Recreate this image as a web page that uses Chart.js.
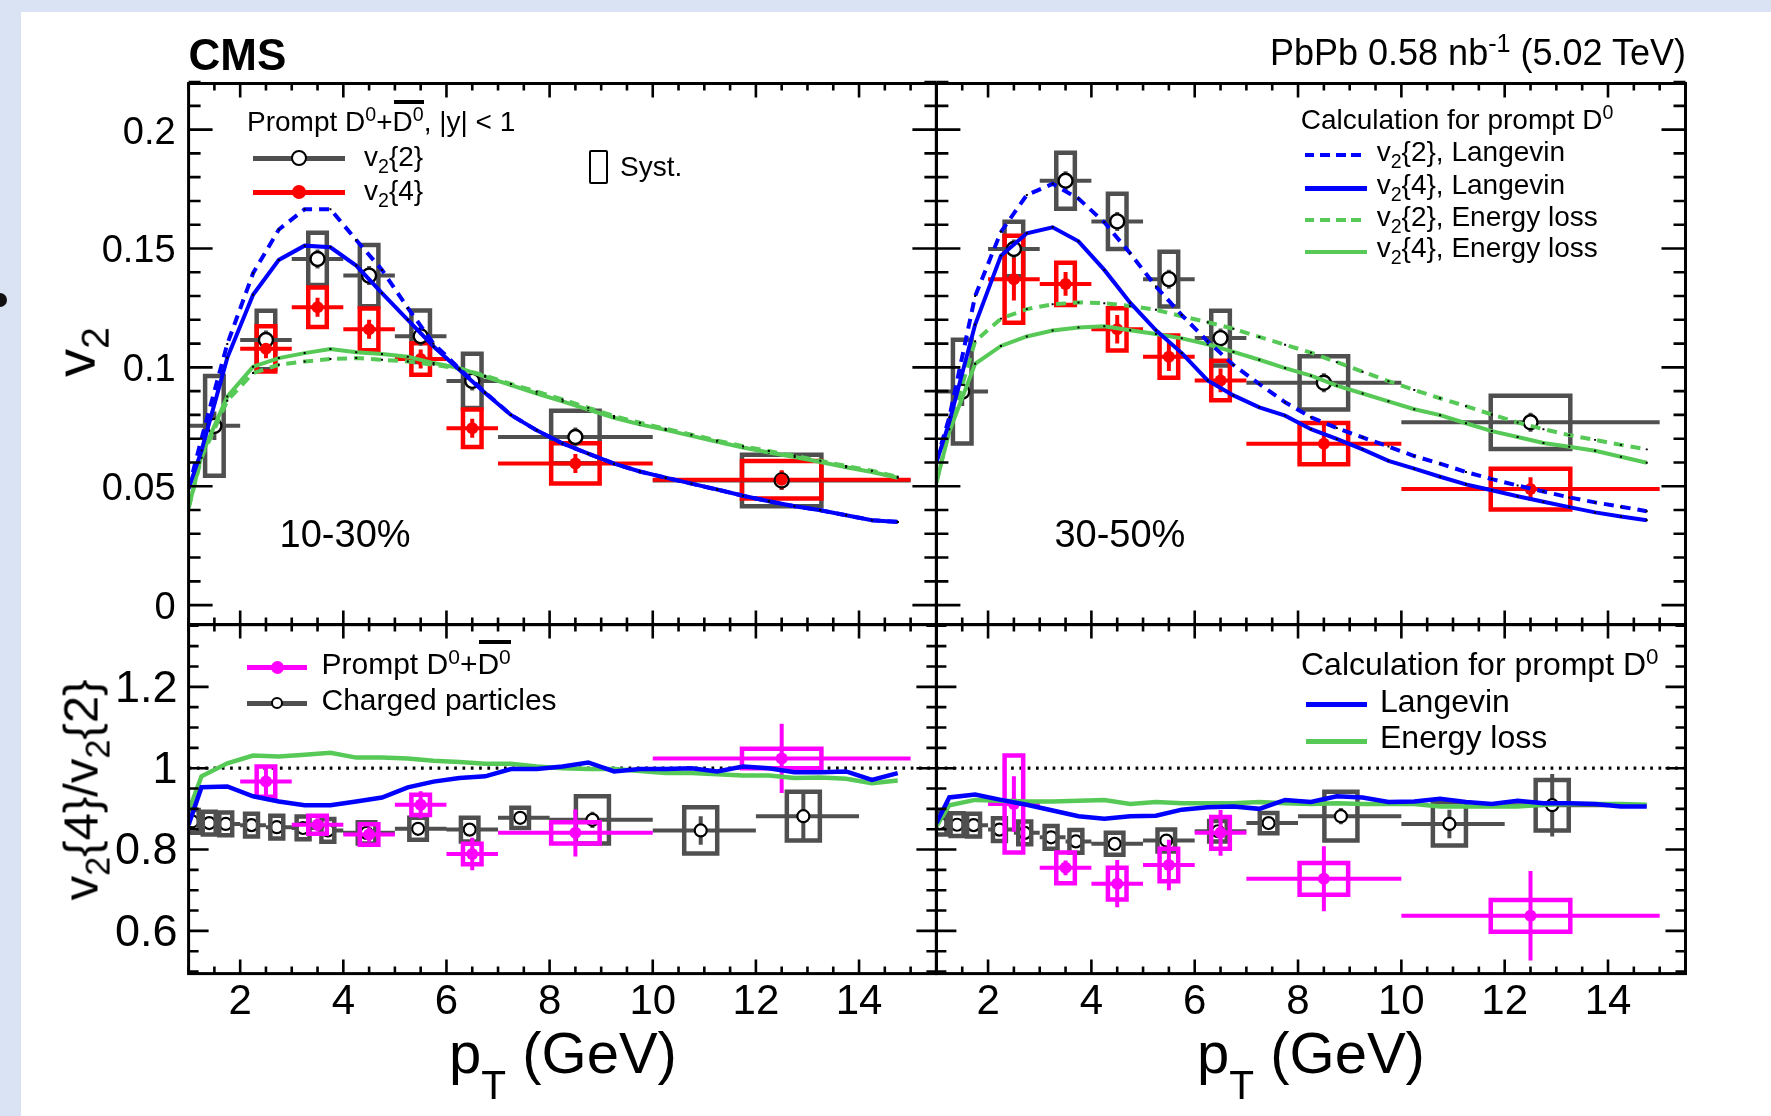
<!DOCTYPE html>
<html>
<head>
<meta charset="utf-8">
<title>CMS prompt D0 v2{2}, v2{4}</title>
<script src="https://cdn.jsdelivr.net/npm/chart.js@4.4.1/dist/chart.umd.min.js"></script>
<style>
  html, body { margin: 0; padding: 0; }
  body { position: relative; width: 1771px; height: 1116px; overflow: hidden; background: #d9e3f4;
         font-family: "Liberation Sans", Arial, Helvetica, sans-serif; color: #000; }
  #sheet { position: absolute; left: 21px; top: 12px; width: 1750px; height: 1104px; background: #fff; }
  #dot { position: absolute; left: -7px; top: 293px; width: 14px; height: 14px; border-radius: 50%; background: #111; }
  canvas { position: absolute; left: 0; top: 0; }
  .t { position: absolute; white-space: nowrap; line-height: 1; }
  .t sub, .t sup { font-size: 0.7em; line-height: 0; }
  .t sub { vertical-align: -0.35em; }
  .t sup { vertical-align: 0.5em; }
  .t sub.deep { vertical-align: -0.65em; }
  .ov { position: relative; }
  .ov::before { content: ""; position: absolute; left: 0.05em; right: 0; top: -0.22em; border-top: 4px solid #000; }
  .ln, .mk { position: absolute; box-sizing: border-box; }
  .mk { border-radius: 50%; }
</style>
</head>
<body>
<div id="sheet"></div>
<div id="dot"></div>
<canvas id="pTL" width="1771" height="1116"></canvas>
<canvas id="pTR" width="1771" height="1116"></canvas>
<canvas id="pBL" width="1771" height="1116"></canvas>
<canvas id="pBR" width="1771" height="1116"></canvas>
<script>
// ---- values ----

// model curves, shared pT grid
const curvePt = [1.0, 1.25, 1.75, 2.25, 2.75, 3.25, 3.75, 4.25, 4.75, 5.25, 5.75, 6.25, 6.75, 7.25,
  7.75, 8.25, 8.75, 9.25, 9.75, 10.25, 10.75, 11.25, 11.75, 12.25, 12.75, 13.25, 13.75, 14.25, 14.75];

// 10-30%
const lgV22_1030 = [0.049, 0.070, 0.1098, 0.1396, 0.158, 0.1665, 0.1665, 0.1536, 0.141, 0.125, 0.110, 0.0995, 0.0895, 0.080,
  0.0735, 0.068, 0.0637, 0.0595, 0.0562, 0.0536, 0.0511, 0.0486, 0.046, 0.0437, 0.0416, 0.0399, 0.0378, 0.0357, 0.035];
const lgV24_1030 = [0.049, 0.065, 0.104, 0.1305, 0.1452, 0.1512, 0.1505, 0.1428, 0.1312, 0.120, 0.1088, 0.099, 0.0892, 0.080,
  0.0735, 0.068, 0.0637, 0.0595, 0.0562, 0.0536, 0.0511, 0.0486, 0.046, 0.0437, 0.0416, 0.0399, 0.0378, 0.0357, 0.035];
const elV22_1030 = [0.0408, 0.062, 0.086, 0.0976, 0.1011, 0.1025, 0.1035, 0.1039, 0.1032, 0.1025, 0.1011, 0.0995, 0.0965, 0.093,
  0.0898, 0.0865, 0.083, 0.0795, 0.0767, 0.0742, 0.0717, 0.0692, 0.0668, 0.0648, 0.0628, 0.0607, 0.0585, 0.0565, 0.054];
const elV24_1030 = [0.0408, 0.063, 0.0877, 0.1003, 0.1039, 0.106, 0.1077, 0.1064, 0.1056, 0.1045, 0.1018, 0.0997, 0.0961, 0.0925,
  0.089, 0.0857, 0.0822, 0.0788, 0.076, 0.0737, 0.0712, 0.0687, 0.0663, 0.0642, 0.0623, 0.0602, 0.058, 0.056, 0.0536];
// 30-50%
const lgV22_3050 = [0.0607, 0.079, 0.130, 0.157, 0.1725, 0.1772, 0.171, 0.161, 0.148, 0.134, 0.122, 0.111, 0.101, 0.093,
  0.0853, 0.079, 0.0745, 0.0705, 0.0667, 0.0627, 0.0595, 0.056, 0.053, 0.0503, 0.0478, 0.0453, 0.0432, 0.0414, 0.0395];
const lgV24_3050 = [0.060, 0.077, 0.118, 0.147, 0.1564, 0.1589, 0.153, 0.141, 0.1272, 0.1156, 0.106, 0.0945, 0.0882, 0.0832,
  0.0797, 0.074, 0.0699, 0.0655, 0.0607, 0.0574, 0.054, 0.0508, 0.0483, 0.0458, 0.0435, 0.0412, 0.039, 0.0373, 0.0357];
const elV22_3050 = [0.0516, 0.074, 0.111, 0.1205, 0.1245, 0.1265, 0.1273, 0.127, 0.1258, 0.1242, 0.1215, 0.119, 0.1162, 0.1128,
  0.1095, 0.1062, 0.1022, 0.0982, 0.0942, 0.0905, 0.087, 0.0837, 0.0802, 0.0768, 0.074, 0.0715, 0.0695, 0.0674, 0.0655];
const elV24_3050 = [0.0516, 0.073, 0.1015, 0.109, 0.113, 0.1155, 0.1168, 0.1173, 0.1156, 0.114, 0.1122, 0.1097, 0.1065, 0.1032,
  0.0997, 0.0965, 0.0923, 0.089, 0.0857, 0.0824, 0.0799, 0.0765, 0.0732, 0.0707, 0.0682, 0.0666, 0.0649, 0.0624, 0.0599];
// ratios v2{4}/v2{2}
const lgRatio_1030 = [0.861, 0.953, 0.955, 0.931, 0.918, 0.909, 0.909, 0.918, 0.928, 0.953, 0.967, 0.976, 0.980, 0.998,
  0.998, 1.004, 1.014, 0.992, 0.998, 0.998, 1.0, 0.992, 1.004, 1.0, 0.990, 0.990, 0.992, 0.971, 0.988];
const elRatio_1030 = [0.894, 0.980, 1.012, 1.031, 1.029, 1.033, 1.038, 1.026, 1.026, 1.024, 1.018, 1.015, 1.011, 1.011,
  1.004, 1.0, 0.998, 0.998, 0.993, 0.988, 0.988, 0.985, 0.982, 0.982, 0.976, 0.977, 0.974, 0.963, 0.970];
const lgRatio_3050 = [0.865, 0.928, 0.935, 0.922, 0.910, 0.896, 0.882, 0.876, 0.882, 0.883, 0.898, 0.904, 0.906, 0.900,
  0.922, 0.917, 0.931, 0.928, 0.917, 0.918, 0.925, 0.917, 0.912, 0.920, 0.914, 0.914, 0.912, 0.906, 0.906];
const elRatio_3050 = [0.857, 0.909, 0.922, 0.920, 0.918, 0.918, 0.920, 0.922, 0.912, 0.917, 0.914, 0.914, 0.914, 0.917,
  0.914, 0.912, 0.914, 0.912, 0.912, 0.912, 0.906, 0.906, 0.906, 0.906, 0.910, 0.912, 0.912, 0.912, 0.910];

// prompt D0 v2 points
const dPt    = [1.5, 2.5, 3.5, 4.5, 5.5, 6.5, 8.5, 12.5];
const dBinLo = [1, 2, 3, 4, 5, 6, 7, 10];
const dBinHi = [2, 3, 4, 5, 6, 7, 10, 15];
const v22_1030     = [0.0754, 0.1115, 0.1456, 0.1386, 0.1131, 0.0943, 0.0707, 0.0524];
const v22_1030Stat = [0.006, 0.004, 0.004, 0.004, 0.004, 0.004, 0.004, 0.004];
const v22_1030Sys  = [0.021, 0.0123, 0.011, 0.0129, 0.0108, 0.0114, 0.011, 0.0108];
const v24_1030     = [null, 0.1078, 0.1253, 0.116, 0.1035, 0.0744, 0.0596, 0.0527];
const v24_1030Stat = [null, 0.004, 0.004, 0.004, 0.004, 0.004, 0.004, 0.004];
const v24_1030Sys  = [null, 0.0095, 0.0083, 0.0088, 0.0066, 0.0079, 0.0085, 0.0079];
const v22_3050     = [0.0898, 0.1498, 0.1785, 0.1614, 0.1371, 0.1123, 0.0935, 0.0769];
const v22_3050Stat = [0.006, 0.004, 0.004, 0.004, 0.004, 0.004, 0.004, 0.004];
const v22_3050Sys  = [0.0218, 0.0115, 0.0118, 0.0116, 0.0115, 0.0115, 0.0112, 0.0112];
const v24_3050     = [null, 0.1371, 0.1351, 0.116, 0.1045, 0.0945, 0.0679, 0.0488];
const v24_3050Stat = [null, 0.009, 0.005, 0.006, 0.006, 0.005, 0.008, 0.005];
const v24_3050Sys  = [null, 0.0183, 0.0089, 0.0089, 0.0089, 0.0083, 0.0087, 0.0086];

// prompt D0 ratio points
const rPt    = [2.5, 3.5, 4.5, 5.5, 6.5, 8.5, 12.5];
const rBinLo = [2, 3, 4, 5, 6, 7, 10];
const rBinHi = [3, 4, 5, 6, 7, 10, 15];
const rD_1030     = [0.967, 0.861, 0.837, 0.910, 0.789, 0.841, 1.024];
const rD_1030Stat = [0.041, 0.016, 0.018, 0.033, 0.040, 0.058, 0.085];
const rD_1030Sys  = [0.037, 0.022, 0.025, 0.025, 0.025, 0.026, 0.024];
const rD_3050     = [0.912, 0.755, 0.716, 0.762, 0.841, 0.728, 0.637];
const rD_3050Stat = [0.068, 0.018, 0.058, 0.062, 0.056, 0.080, 0.110];
const rD_3050Sys  = [0.119, 0.038, 0.039, 0.040, 0.039, 0.039, 0.039];

// charged particle ratio points
const hPt    = [1.07, 1.40, 1.72, 2.22, 2.71, 3.22, 3.70, 4.45, 5.45, 6.45, 7.43, 8.83, 10.93, 12.92];
const hBinLo = [1.0, 1.2, 1.6, 2.0, 2.5, 3.0, 3.5, 4, 5, 6, 7, 8, 10, 12];
const hBinHi = [1.2, 1.6, 2.0, 2.5, 3.0, 3.5, 4.0, 5, 6, 7, 8, 10, 12, 14];
const rH_1030     = [0.869, 0.865, 0.863, 0.860, 0.855, 0.853, 0.847, 0.841, 0.851, 0.849, 0.878, 0.873, 0.847, 0.882];
const rH_1030Stat = [0.004, 0.004, 0.004, 0.004, 0.005, 0.005, 0.006, 0.007, 0.008, 0.010, 0.012, 0.020, 0.035, 0.060];
const rH_1030Sys  = [0.028, 0.028, 0.028, 0.028, 0.028, 0.028, 0.028, 0.026, 0.027, 0.029, 0.025, 0.058, 0.057, 0.060];
const rH_3050     = [0.865, 0.861, 0.860, 0.849, 0.841, 0.830, 0.820, 0.814, 0.822, 0.845, 0.865, 0.882, 0.863, 0.909];
const rH_3050Stat = [0.004, 0.004, 0.004, 0.004, 0.005, 0.005, 0.006, 0.007, 0.008, 0.010, 0.012, 0.020, 0.035, 0.077];
const rH_3050Sys  = [0.028, 0.028, 0.028, 0.028, 0.028, 0.028, 0.028, 0.027, 0.027, 0.025, 0.025, 0.060, 0.053, 0.062];

// axes
const xTickVals  = [2, 4, 6, 8, 10, 12, 14];
const v2TickVals = [0, 0.05, 0.1, 0.15, 0.2];
const rTickVals  = [0.6, 0.8, 1, 1.2];

// ---- page geometry ----
const W = 1771, H = 1116;
const FL = 188.6, FM = 936.4, FR = 1685.5;   // frame x: left, middle, right
const FT = 83.5, FMID = 624.6, FB = 973.6;    // frame y: top, middle, bottom
const X_MIN = 1, X_MAX = 15.5;

const GRAY = '#4f4f4f', RED = '#ff0000', MAG = '#ff00ff', BLUE = '#0000ff', GREEN = '#57c957';
const FONT = '"Liberation Sans", Arial, Helvetica, sans-serif';
Chart.defaults.font.family = FONT;
Chart.defaults.color = '#000';

const steps = (a, b, s) => { const out = []; for (let v = a; v <= b + 1e-9; v += s) out.push(+v.toFixed(4)); return out; };

// ROOT-style frame with inward ticks on all four sides
const rootFrame = {
  id: 'rootFrame',
  afterDatasetsDraw(chart, args, o) {
    const { ctx, chartArea: a } = chart;
    const sx = chart.scales.x, sy = chart.scales.y;
    const isMajor = (v, list) => list.some(m => Math.abs(m - v) < 1e-6);
    ctx.save();
    ctx.strokeStyle = '#000';
    ctx.lineWidth = 2.6;
    ctx.beginPath();
    o.xMinor.forEach(v => {
      const p = sx.getPixelForValue(v);
      const len = isMajor(v, o.xMajor) ? o.xLen[0] : o.xLen[1];
      ctx.moveTo(p, a.bottom); ctx.lineTo(p, a.bottom - len);
      ctx.moveTo(p, a.top); ctx.lineTo(p, a.top + len);
    });
    o.yMinor.forEach(v => {
      const p = sy.getPixelForValue(v);
      const len = isMajor(v, o.yMajor) ? o.yLen[0] : o.yLen[1];
      ctx.moveTo(a.left, p); ctx.lineTo(a.left + len, p);
      ctx.moveTo(a.right, p); ctx.lineTo(a.right - len, p);
    });
    ctx.stroke();
    ctx.lineWidth = 3;
    ctx.strokeRect(a.left, a.top, a.right - a.left, a.bottom - a.top);
    ctx.restore();
  }
};

// ---- dataset builders ----
const dHalfW = pt => pt < 7 ? 0.18 : (pt < 10 ? 0.47 : 0.77);
const hHalfW = pt => pt < 4 ? 0.125 : (pt < 8 ? 0.17 : 0.32);

function boxPts(px, val, sys, hw) {
  const pts = [];
  px.forEach((p, i) => {
    if (val[i] == null) return;
    const w = hw(p), lo = val[i] - sys[i], hi = val[i] + sys[i];
    pts.push({x: p - w, y: lo}, {x: p + w, y: lo}, {x: p + w, y: hi}, {x: p - w, y: hi}, {x: p - w, y: lo}, {x: p, y: null});
  });
  return pts;
}
function errPts(px, val, stat, lo, hi) {
  const pts = [];
  px.forEach((p, i) => {
    if (val[i] == null) return;
    pts.push({x: lo[i], y: val[i]}, {x: hi[i], y: val[i]}, {x: p, y: null});
    pts.push({x: p, y: val[i] - stat[i]}, {x: p, y: val[i] + stat[i]}, {x: p, y: null});
  });
  return pts;
}
const xy = (px, val) => px.map((p, i) => ({x: p, y: val[i]})).filter(d => d.y != null);

const boxSet = (data, color, w) => ({ data, borderColor: color, borderWidth: w, pointRadius: 0,
  borderCapStyle: 'square', borderJoinStyle: 'miter', spanGaps: false });
const errSet = (data, color, w) => ({ data, borderColor: color, borderWidth: w, pointRadius: 0,
  borderCapStyle: 'butt', spanGaps: false });
const openMk = (data, r, bw) => ({ data, showLine: false, pointStyle: 'circle', pointRadius: r,
  pointBackgroundColor: '#fff', pointBorderColor: '#000', pointBorderWidth: bw });
const fullMk = (data, color, r) => ({ data, showLine: false, pointStyle: 'circle', pointRadius: r,
  pointBackgroundColor: color, pointBorderColor: color, pointBorderWidth: 0 });
const curveSet = (vals, color, w, dashed, dots) => ({ data: xy(curvePt, vals), borderColor: color, borderWidth: w,
  borderDash: dashed ? [10, 7] : [], tension: 0,
  pointRadius: dots ? 1.4 : 0, pointStyle: 'rect', pointBackgroundColor: '#000', pointBorderWidth: 0 });

// first entry is drawn on top
function topSets(v22, v22s, v22y, v24, v24s, v24y, lg22, lg24, el22, el24) {
  return [
    curveSet(lg22, BLUE, 4, true, true),
    curveSet(lg24, BLUE, 4, false, true),
    curveSet(el22, GREEN, 4, true, true),
    curveSet(el24, GREEN, 4, false, true),
    fullMk(xy(dPt, v24), RED, 6),
    openMk(xy(dPt, v22), 7, 2.4),
    errSet(errPts(dPt, v24, v24s, dBinLo, dBinHi), RED, 4),
    errSet(errPts(dPt, v22, v22s, dBinLo, dBinHi), GRAY, 4),
    boxSet(boxPts(dPt, v24, v24y, dHalfW), RED, 4.5),
    boxSet(boxPts(dPt, v22, v22y, dHalfW), GRAY, 4.5)
  ];
}
function bottomSets(rD, rDs, rDy, rH, rHs, rHy, lg, el) {
  return [
    curveSet(lg, BLUE, 4.5, false, false),
    curveSet(el, GREEN, 4.5, false, false),
    fullMk(xy(rPt, rD), MAG, 6),
    errSet(errPts(rPt, rD, rDs, rBinLo, rBinHi), MAG, 4),
    boxSet(boxPts(rPt, rD, rDy, dHalfW), MAG, 4.5),
    boxSet(boxPts(hPt, rH, rHy, hHalfW), GRAY, 4.5),
    openMk(xy(hPt, rH), 6, 2.2),
    errSet(errPts(hPt, rH, rHs, hBinLo, hBinHi), GRAY, 4),
    { data: [{x: X_MIN, y: 1}, {x: X_MAX, y: 1}], borderColor: '#000', borderWidth: 3.3, borderDash: [2.7, 5.6], pointRadius: 0 }
  ];
}

function panel(id, area, p) {
  const yW = p.yLabels ? 140 : 0;
  const xH = p.xLabels ? 60 : 0;
  p.sets.forEach((s, i) => { s.order = i; });
  new Chart(document.getElementById(id), {
    type: 'line',
    data: { datasets: p.sets },
    options: {
      responsive: false, animation: false, devicePixelRatio: 1, events: [],
      layout: { padding: { left: area.l - yW, right: W - area.r, top: area.t, bottom: H - area.b - xH } },
      plugins: {
        legend: { display: false }, tooltip: { enabled: false },
        rootFrame: { xMajor: xTickVals, xMinor: steps(X_MIN, X_MAX, 0.5), xLen: [14, 7],
                     yMajor: p.yTicks, yMinor: p.yMinor, yLen: p.yLen }
      },
      scales: {
        x: {
          type: 'linear', min: X_MIN, max: X_MAX,
          grid: { display: false }, border: { display: false },
          afterBuildTicks: s => { s.ticks = xTickVals.map(v => ({ value: v })); },
          afterFit: s => { s.height = xH; },
          ticks: { display: p.xLabels, autoSkip: false, maxRotation: 0, padding: 0, color: '#000',
                   font: { size: 42, lineHeight: 1 }, callback: v => String(v) }
        },
        y: {
          type: 'linear', min: p.yMin, max: p.yMax,
          grid: { display: false }, border: { display: false },
          afterBuildTicks: s => { s.ticks = p.yTicks.map(v => ({ value: v })); },
          afterFit: s => { s.width = yW; },
          ticks: { display: p.yLabels, autoSkip: false, padding: p.yPad, labelOffset: p.yShift, color: '#000',
                   font: { size: p.yFont, lineHeight: 1 }, callback: v => String(v) }
        }
      }
    },
    plugins: [rootFrame]
  });
}

const topCommon = { yMin: -0.0082, yMax: 0.2194, yTicks: v2TickVals, yMinor: steps(0, 0.22, 0.01),
                    yLen: [24, 12], yFont: 38, yPad: 5, yShift: 3.5, xLabels: false };
const botCommon = { yMin: 0.495, yMax: 1.353, yTicks: rTickVals, yMinor: steps(0.5, 1.35, 0.05),
                    yLen: [20, 10], yFont: 45, yPad: 3, yShift: 2.5, xLabels: true };

panel('pTL', { l: FL, r: FM, t: FT, b: FMID }, Object.assign({}, topCommon, { yLabels: true,
  sets: topSets(v22_1030, v22_1030Stat, v22_1030Sys, v24_1030, v24_1030Stat, v24_1030Sys,
                lgV22_1030, lgV24_1030, elV22_1030, elV24_1030) }));
panel('pTR', { l: FM, r: FR, t: FT, b: FMID }, Object.assign({}, topCommon, { yLabels: false,
  sets: topSets(v22_3050, v22_3050Stat, v22_3050Sys, v24_3050, v24_3050Stat, v24_3050Sys,
                lgV22_3050, lgV24_3050, elV22_3050, elV24_3050) }));
panel('pBL', { l: FL, r: FM, t: FMID, b: FB }, Object.assign({}, botCommon, { yLabels: true,
  sets: bottomSets(rD_1030, rD_1030Stat, rD_1030Sys, rH_1030, rH_1030Stat, rH_1030Sys, lgRatio_1030, elRatio_1030) }));
panel('pBR', { l: FM, r: FR, t: FMID, b: FB }, Object.assign({}, botCommon, { yLabels: false,
  sets: bottomSets(rD_3050, rD_3050Stat, rD_3050Sys, rH_3050, rH_3050Stat, rH_3050Sys, lgRatio_3050, elRatio_3050) }));

// ---- text and legends (HTML) ----
function text(html, x, base, size, align, extra) {
  const d = document.createElement('div');
  d.className = 't';
  d.innerHTML = html;
  d.style.fontSize = size + 'px';
  d.style.top = (base - 0.8465 * size) + 'px';
  if (align === 'right') d.style.right = (W - x) + 'px';
  else if (align === 'center') { d.style.left = x + 'px'; d.style.transform = 'translateX(-50%)'; }
  else d.style.left = x + 'px';
  if (extra) Object.assign(d.style, extra);
  document.body.appendChild(d);
}
function vtext(html, bx, cy, size) {
  const d = document.createElement('div');
  d.className = 't';
  d.innerHTML = html;
  d.style.fontSize = size + 'px';
  d.style.left = bx + 'px';
  d.style.top = cy + 'px';
  d.style.transformOrigin = '0 0';
  d.style.transform = `rotate(-90deg) translate(-50%, ${-0.8465 * size}px)`;
  document.body.appendChild(d);
}
function hline(x1, x2, y, w, color, dash) {
  const d = document.createElement('div');
  d.className = 'ln';
  Object.assign(d.style, { left: x1 + 'px', top: (y - w / 2) + 'px', width: (x2 - x1) + 'px', height: w + 'px',
    background: dash ? `repeating-linear-gradient(90deg, ${color} 0 ${dash[0]}px, transparent ${dash[0]}px ${dash[0] + dash[1]}px)` : color });
  document.body.appendChild(d);
}
function mark(cx, cy, r, fill, stroke, bw) {
  const d = document.createElement('div');
  d.className = 'mk';
  Object.assign(d.style, { left: (cx - r) + 'px', top: (cy - r) + 'px', width: 2 * r + 'px', height: 2 * r + 'px',
    background: fill, border: bw ? `${bw}px solid ${stroke}` : 'none' });
  document.body.appendChild(d);
}

const D0BAR = 'D<sup>0</sup>+<span class="ov">D<sup>0</sup></span>';

text('CMS', 188.6, 70, 44, 'left', { fontWeight: 'bold' });
text('PbPb 0.58 nb<sup>-1</sup> (5.02 TeV)', 1686, 65.5, 36, 'right');

// top-left legend
text('Prompt ' + D0BAR + ', |y| &lt; 1', 247, 131.7, 28);
hline(253, 345, 158.3, 4.5, GRAY);
mark(298.8, 158.3, 8, '#fff', '#000', 2.4);
text('v<sub>2</sub>{2}', 364, 166.7, 28);
hline(253, 345, 192.3, 4.5, RED);
mark(298.8, 192.3, 7, RED);
text('v<sub>2</sub>{4}', 364, 200.5, 28);
const syst = document.createElement('div');
Object.assign(syst.style, { position: 'absolute', left: '588.7px', top: '150px', width: '19px', height: '34px',
  border: '2px solid #000', boxSizing: 'border-box', borderRadius: '2px' });
document.body.appendChild(syst);
text('Syst.', 620, 176.7, 28);

// top-right legend
text('Calculation for prompt D<sup>0</sup>', 1300.7, 130, 28);
hline(1305, 1367, 155, 4.5, BLUE, [9.5, 6]);
text('v<sub>2</sub>{2}, Langevin', 1376.7, 161.7, 28);
hline(1305, 1367, 188.3, 4.5, BLUE);
text('v<sub>2</sub>{4}, Langevin', 1376.7, 195, 28);
hline(1305, 1367, 220, 4, GREEN, [9.5, 6]);
text('v<sub>2</sub>{2}, Energy loss', 1376.7, 226.7, 28);
hline(1305, 1367, 251.7, 4, GREEN);
text('v<sub>2</sub>{4}, Energy loss', 1376.7, 257.3, 28);

text('10-30%', 279.6, 547.6, 38);
text('30-50%', 1054.4, 547.6, 38);

// bottom-left legend
hline(247, 307, 667.7, 4.5, MAG);
mark(277, 667.7, 6.5, MAG);
text('Prompt ' + D0BAR, 321.5, 674.3, 30);
hline(247, 307, 703.3, 4.5, GRAY);
mark(277, 703.3, 6, '#fff', '#000', 2.2);
text('Charged particles', 321.5, 710, 30);

// bottom-right legend
text('Calculation for prompt D<sup>0</sup>', 1301, 675, 32);
hline(1306, 1367, 704.3, 5, BLUE);
text('Langevin', 1380, 711.7, 32);
hline(1306, 1367, 741.7, 5, GREEN);
text('Energy loss', 1380, 748.3, 32);

// axis titles
text('p<sub class="deep">T</sub> (GeV)', 563, 1073, 58, 'center');
text('p<sub class="deep">T</sub> (GeV)', 1311, 1073, 58, 'center');
vtext('v<sub>2</sub>', 95, 352, 56);
vtext('v<sub>2</sub>{4}/v<sub>2</sub>{2}', 98, 790, 49);
</script>
</body>
</html>
